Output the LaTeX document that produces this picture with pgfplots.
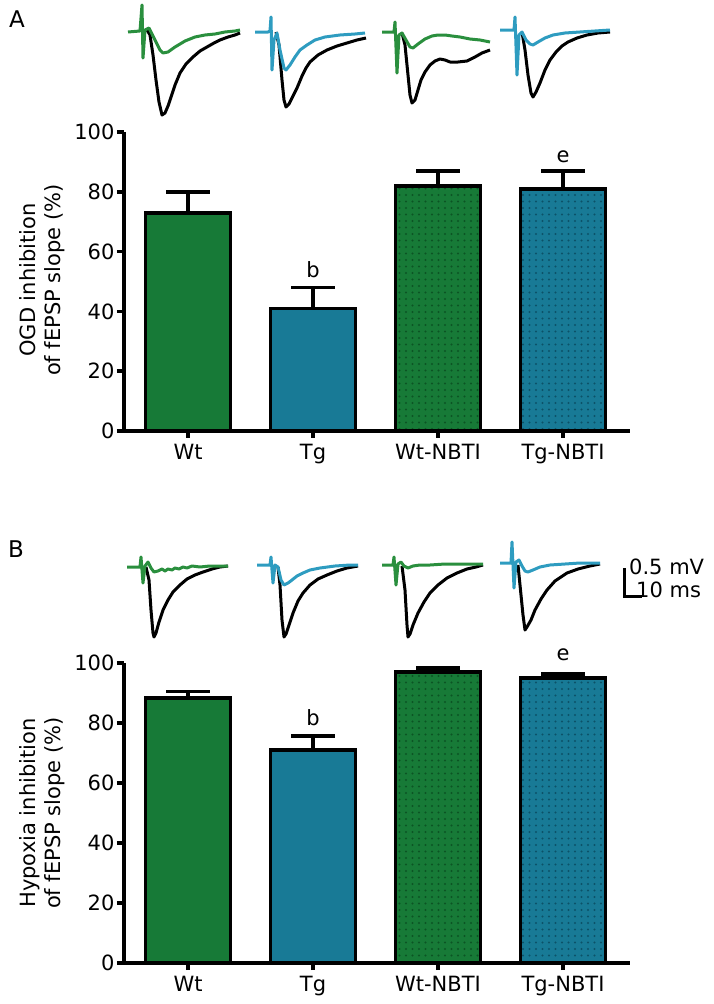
\documentclass[border=0pt]{standalone}
\usepackage{pgfplots}
\pgfplotsset{compat=1.18}
\usepackage{fontspec}
\setmainfont{DejaVu Sans}
\usetikzlibrary{patterns}
\pgfdeclarepatternformonly{bigdots}{\pgfpoint{-1pt}{-1pt}}{\pgfpoint{7pt}{7pt}}{\pgfpoint{6.5pt}{6.5pt}}{\pgfpathcircle{\pgfpoint{3pt}{3pt}}{1.2pt}\pgfusepath{fill}}
\definecolor{gbar}{HTML}{177A37}
\definecolor{bbar}{HTML}{187A96}
\definecolor{gdot}{HTML}{0C5424}
\definecolor{bdot}{HTML}{0C5268}
\definecolor{gtr}{HTML}{2A8F3E}
\definecolor{btr}{HTML}{2E9CC0}
\newcommand{\fs}{\fontsize{21}{25}\selectfont}
\pgfplotsset{
  baraxis/.style={scale only axis, width=506pt, height=#1, anchor=south west,
    xmin=-0.512, xmax=3.536, ymin=0, ymax=100, clip=false,
    axis x line=bottom, axis y line=left,
    axis line style={-, line width=3.8pt, black},
    tick align=outside, major tick length=7pt,
    tick style={line width=3.5pt, black},
    ytick={0,20,40,60,80,100}, xtick={0,1,2,3},
    xticklabels={Wt,Tg,Wt-NBTI,Tg-NBTI},
    ticklabel style={font=\fs},
    /pgf/number format/assume math mode=true,
    yticklabel style={xshift=1pt},
    xticklabel style={yshift=-3pt}},
  mybar/.style={ybar, bar width=0.68, bar shift=0pt, draw=black, line width=3.8pt,
    error bars/y dir=plus, error bars/y explicit,
    error bars/error bar style={line width=3.8pt, black},
    error bars/error mark options={rotate=90, line width=3.8pt, mark size=22pt, black}},
}
\begin{document}
\begin{tikzpicture}
\useasboundingbox (0pt,0pt) rectangle (714pt,1004pt);
% Panel A bars
\begin{axis}[baraxis=299pt, at={(124pt,573pt)}]
\addplot[mybar, fill=gbar] coordinates {(0,73) +- (0,7)};
\addplot[mybar, fill=bbar] coordinates {(1,41) +- (0,7)};
\addplot[mybar, fill=gbar, postaction={pattern=bigdots, pattern color=gdot}] coordinates {(2,82) +- (0,5)};
\addplot[mybar, fill=bbar, postaction={pattern=bigdots, pattern color=bdot}] coordinates {(3,81) +- (0,6)};
\node[font=\fs] at (axis cs:1,54) {b};
\node[font=\fs] at (axis cs:3,91.6) {e};
\end{axis}
% Panel B bars
\begin{axis}[baraxis=300pt, at={(124pt,41pt)}]
\addplot[mybar, fill=gbar] coordinates {(0,88.3) +- (0,2.2)};
\addplot[mybar, fill=bbar] coordinates {(1,71) +- (0,4.6)};
\addplot[mybar, fill=gbar, postaction={pattern=bigdots, pattern color=gdot}] coordinates {(2,97) +- (0,1.2)};
\addplot[mybar, fill=bbar, postaction={pattern=bigdots, pattern color=bdot}] coordinates {(3,95) +- (0,1.3)};
\node[font=\fs] at (axis cs:1,81.7) {b};
\node[font=\fs] at (axis cs:3,102.7) {e};
\end{axis}
% Overlay: traces, labels
\begin{axis}[at={(0pt,0pt)}, anchor=south west, scale only axis, width=714pt, height=1004pt,
  xmin=0, xmax=714, ymin=0, ymax=1004, y dir=reverse, hide axis, clip=false]
% ---- Panel A traces
\addplot[black, line width=3pt, line join=round] coordinates {(147,30) (150,35) (153,55) (156,80) (159,102) (162,115) (165,113) (168,106) (171,97) (175,85) (180,73) (186,64) (193,57) (200,51) (207,47) (214,43) (220,40) (228,37) (235,35) (240,33)};
\addplot[gtr, line width=3pt, line join=round] coordinates {(128,32) (140,31) (142,5) (143,58) (145,30) (149,28) (155,40) (160,50) (163,53) (168,52) (175,47) (185,41) (195,37) (205,35) (215,34) (225,32) (235,31) (240,30)};
\addplot[black, line width=3pt, line join=round] coordinates {(276,32) (279,45) (282,80) (284,100) (286,107) (289,104) (293,96) (297,88) (302,76) (306,68) (310,62) (318,55) (327,50) (337,46) (347,43) (357,40) (366,38)};
\addplot[btr, line width=3pt, line join=round] coordinates {(255,32) (268,32) (270,31) (271,17) (272,70) (274,40) (277,33) (280,50) (284,68) (286,70) (290,65) (295,57) (300,50) (307,45) (315,40) (325,37) (340,35) (355,34) (365,33)};
\addplot[black, line width=3pt, line join=round] coordinates {(402,33) (405,45) (408,75) (410,95) (412,103) (415,100) (418,90) (421,80) (425,72) (430,65) (435,61) (440,59) (445,60) (450,62) (458,62) (467,61) (475,57) (482,53) (490,50)};
\addplot[gtr, line width=3pt, line join=round] coordinates {(382,32) (394,32) (395,22) (397,73) (399,35) (402,33) (406,40) (410,47) (413,48) (418,44) (425,39) (432,36) (438,35) (445,35) (452,36) (460,37) (470,39) (480,40) (490,42)};
\addplot[black, line width=3pt, line join=round] coordinates {(522,32) (525,50) (528,75) (531,93) (533,97) (536,92) (540,83) (545,70) (550,60) (556,52) (562,46) (568,42) (577,38) (587,35) (598,33) (610,32)};
\addplot[btr, line width=3pt, line join=round] coordinates {(500,30) (514,30) (515,17) (517,75) (519,35) (522,32) (526,40) (530,44) (533,45) (538,42) (545,38) (553,35) (565,33) (580,32) (595,31) (610,30)};
% ---- Panel B traces
\addplot[black, line width=3pt, line join=round] coordinates {(146,567) (149,580) (151,610) (153,633) (154,637) (156,633) (159,622) (163,610) (168,600) (173,592) (180,585) (187,579) (195,575) (203,572) (212,569) (220,567) (228,566)};
\addplot[gtr, line width=3pt, line join=round] coordinates {(127,567) (140,567) (141,557) (143,583) (145,566) (148,562) (151,568) (154,572) (158,571) (162,569) (165,571) (168,569) (172,570) (175,568) (179,569) (183,567) (187,568) (192,566) (200,567) (210,566) (220,566) (228,566)};
\addplot[black, line width=3pt, line join=round] coordinates {(278,567) (280,585) (282,620) (284,637) (286,634) (289,625) (293,613) (298,601) (303,593) (310,585) (318,579) (327,575) (337,571) (347,568) (358,566)};
\addplot[btr, line width=3pt, line join=round] coordinates {(257,565) (270,565) (271,557) (273,583) (275,565) (278,567) (281,580) (284,585) (288,583) (292,580) (297,576) (303,573) (310,570) (320,568) (335,566) (350,565) (358,565)};
\addplot[black, line width=3pt, line join=round] coordinates {(402,566) (405,590) (407,625) (408,637) (410,634) (413,625) (418,613) (424,602) (430,593) (438,585) (447,578) (457,573) (467,569) (476,567) (483,565)};
\addplot[gtr, line width=3pt, line join=round] coordinates {(382,565) (393,565) (394,557) (396,585) (398,564) (401,562) (404,566) (408,568) (413,566) (420,565) (430,565) (445,564) (460,564) (475,564) (483,564)};
\addplot[black, line width=3pt, line join=round] coordinates {(518,565) (520,585) (523,615) (525,630) (527,627) (531,620) (535,610) (541,599) (547,590) (555,581) (567,573) (578,569) (590,566) (600,564)};
\addplot[btr, line width=3pt, line join=round] coordinates {(500,563) (511,563) (512,542) (514,588) (516,562) (519,560) (522,566) (525,571) (528,572) (533,570) (540,567) (550,565) (565,564) (580,563) (600,563)};
% scale bar
\addplot[black, line width=3pt] coordinates {(624,568) (624,596) (642,596)};
\node[anchor=west, inner sep=0pt, font=\fs] at (axis cs:629,567) {0.5 mV};
\node[anchor=west, inner sep=0pt, font=\fs] at (axis cs:636,590) {10 ms};
% panel letters
\node[font=\fontsize{23}{27}\selectfont] at (axis cs:17,19) {A};
\node[font=\fontsize{23}{27}\selectfont] at (axis cs:16,549) {B};
% y labels
\node[rotate=90, align=center, font=\fs] at (axis cs:42,280) {OGD inhibition\\of fEPSP slope (\%)};
\node[rotate=90, align=center, font=\fs] at (axis cs:42,813) {Hypoxia inhibition\\of fEPSP slope (\%)};
\end{axis}
\end{tikzpicture}
\end{document}
